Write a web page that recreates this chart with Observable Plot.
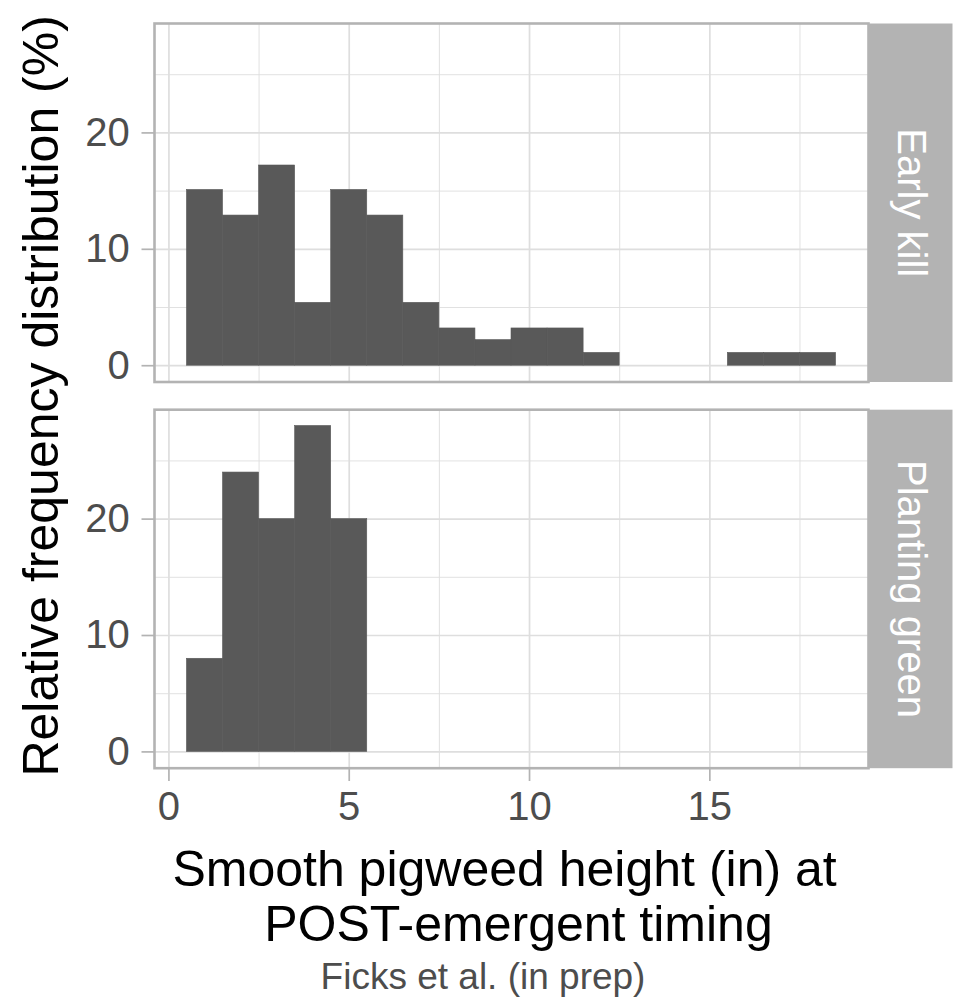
<!DOCTYPE html>
<html>
<head>
<meta charset="utf-8">
<script src="https://cdn.jsdelivr.net/npm/d3@7"></script>
<script src="https://cdn.jsdelivr.net/npm/@observablehq/plot@0.6"></script>
<style>
  html, body { margin: 0; padding: 0; background: #fff; }
  #chart { width: 966px; }
  svg text { white-space: pre; }
  #caption {
    width: 966px; text-align: center; font-family: "Liberation Sans", Arial, sans-serif;
    font-size: 37px; color: #4D4D4D; line-height: 42px; margin-top: 4px;
  }
</style>
</head>
<body>
<div id="chart"></div>
<div id="caption">Ficks et al. (in prep)</div>
<script>
// ---- data ----
const panels = ["Early kill", "Planting green"];
const binMids = [1, 2, 3, 4, 5, 6, 7, 8, 9, 10, 11, 12, 13, 14, 15, 16, 17, 18];
const binWidth = 1;
const earlyKill = [15.1, 12.9, 17.2, 5.4, 15.1, 12.9, 5.4, 3.2, 2.2, 3.2, 3.2, 1.1, 0, 0, 0, 1.1, 1.1, 1.1];
const plantingGreen = [8, 24, 20, 28, 20];
const xMajor = [0, 5, 10, 15];
const xMinor = [2.5, 7.5, 12.5, 17.5];
const yMajor = [0, 10, 20];
const yMinor = [5, 15, 25];
const xTitle = "Smooth pigweed height (in) at \n POST-emergent timing";
const yTitle = "Relative frequency distribution (%)";

const rows = [];
earlyKill.forEach((v, i) => { if (v > 0) rows.push({panel: panels[0], mid: binMids[i], pct: v}); });
plantingGreen.forEach((v, i) => { if (v > 0) rows.push({panel: panels[1], mid: binMids[i], pct: v}); });

const W = 966, H = 952;
const mL = 154, mR = 98, mT = 23, mB = H - 767.7;
const panelW = W - mL - mR;
const stripW = 84;
const font = "'Liberation Sans', Arial, sans-serif";

const plot = Plot.plot({
  width: W, height: H,
  marginLeft: mL, marginRight: mR, marginTop: mT, marginBottom: mB,
  style: {fontFamily: font, background: "#fff", overflow: "visible"},
  x: {domain: [-0.4, 19.4]},
  y: {domain: [-1.4, 29.4]},
  fy: {domain: panels, axis: null, paddingInner: 0.0717, paddingOuter: 0, round: false},
  marks: [
    Plot.gridX(xMinor, {stroke: "#DEDEDE", strokeOpacity: 1, strokeWidth: 0.9}),
    Plot.gridY(yMinor, {stroke: "#DEDEDE", strokeOpacity: 1, strokeWidth: 0.9}),
    Plot.gridX(xMajor, {stroke: "#DEDEDE", strokeOpacity: 1, strokeWidth: 1.7}),
    Plot.gridY(yMajor, {stroke: "#DEDEDE", strokeOpacity: 1, strokeWidth: 1.7}),
    Plot.rectY(rows, {
      x1: d => d.mid - binWidth / 2, x2: d => d.mid + binWidth / 2,
      y1: 0, y2: "pct", fy: "panel", fill: "#595959", inset: 0,
      stroke: "#595959", strokeWidth: 0.6
    }),
    Plot.frame({stroke: "#B3B3B3", strokeWidth: 2.6}),
    Plot.frame({fill: "#B3B3B3", stroke: "none", insetLeft: panelW, insetRight: -stripW}),
    Plot.text(panels, {
      fy: d => d, text: d => d, frameAnchor: "right", dx: stripW / 2,
      rotate: 90, textAnchor: "middle", lineAnchor: "middle",
      fill: "white", fontSize: 40
    }),
    Plot.axisX(xMajor, {
      label: null, tickSize: 13.3, tickPadding: 10.5, fontSize: 40,
      stroke: "#B3B3B3", strokeWidth: 1.7, fill: "#4D4D4D"
    }),
    Plot.axisY(yMajor, {
      label: null, tickSize: 12.5, tickPadding: 12.2, fontSize: 40,
      stroke: "#B3B3B3", strokeWidth: 1.7, fill: "#4D4D4D"
    }),
    Plot.text([yTitle], {
      facet: "super", frameAnchor: "left", rotate: -90, textAnchor: "middle",
      lineAnchor: "top", dx: -132, fontSize: 50, fill: "black"
    }),
    Plot.text([xTitle], {
      facet: "super", frameAnchor: "bottom", textAnchor: "middle",
      lineAnchor: "top", lineHeight: 1.1, dy: 78.8, fontSize: 50, fill: "black"
    })
  ]
});
document.getElementById("chart").appendChild(plot);
</script>
</body>
</html>
